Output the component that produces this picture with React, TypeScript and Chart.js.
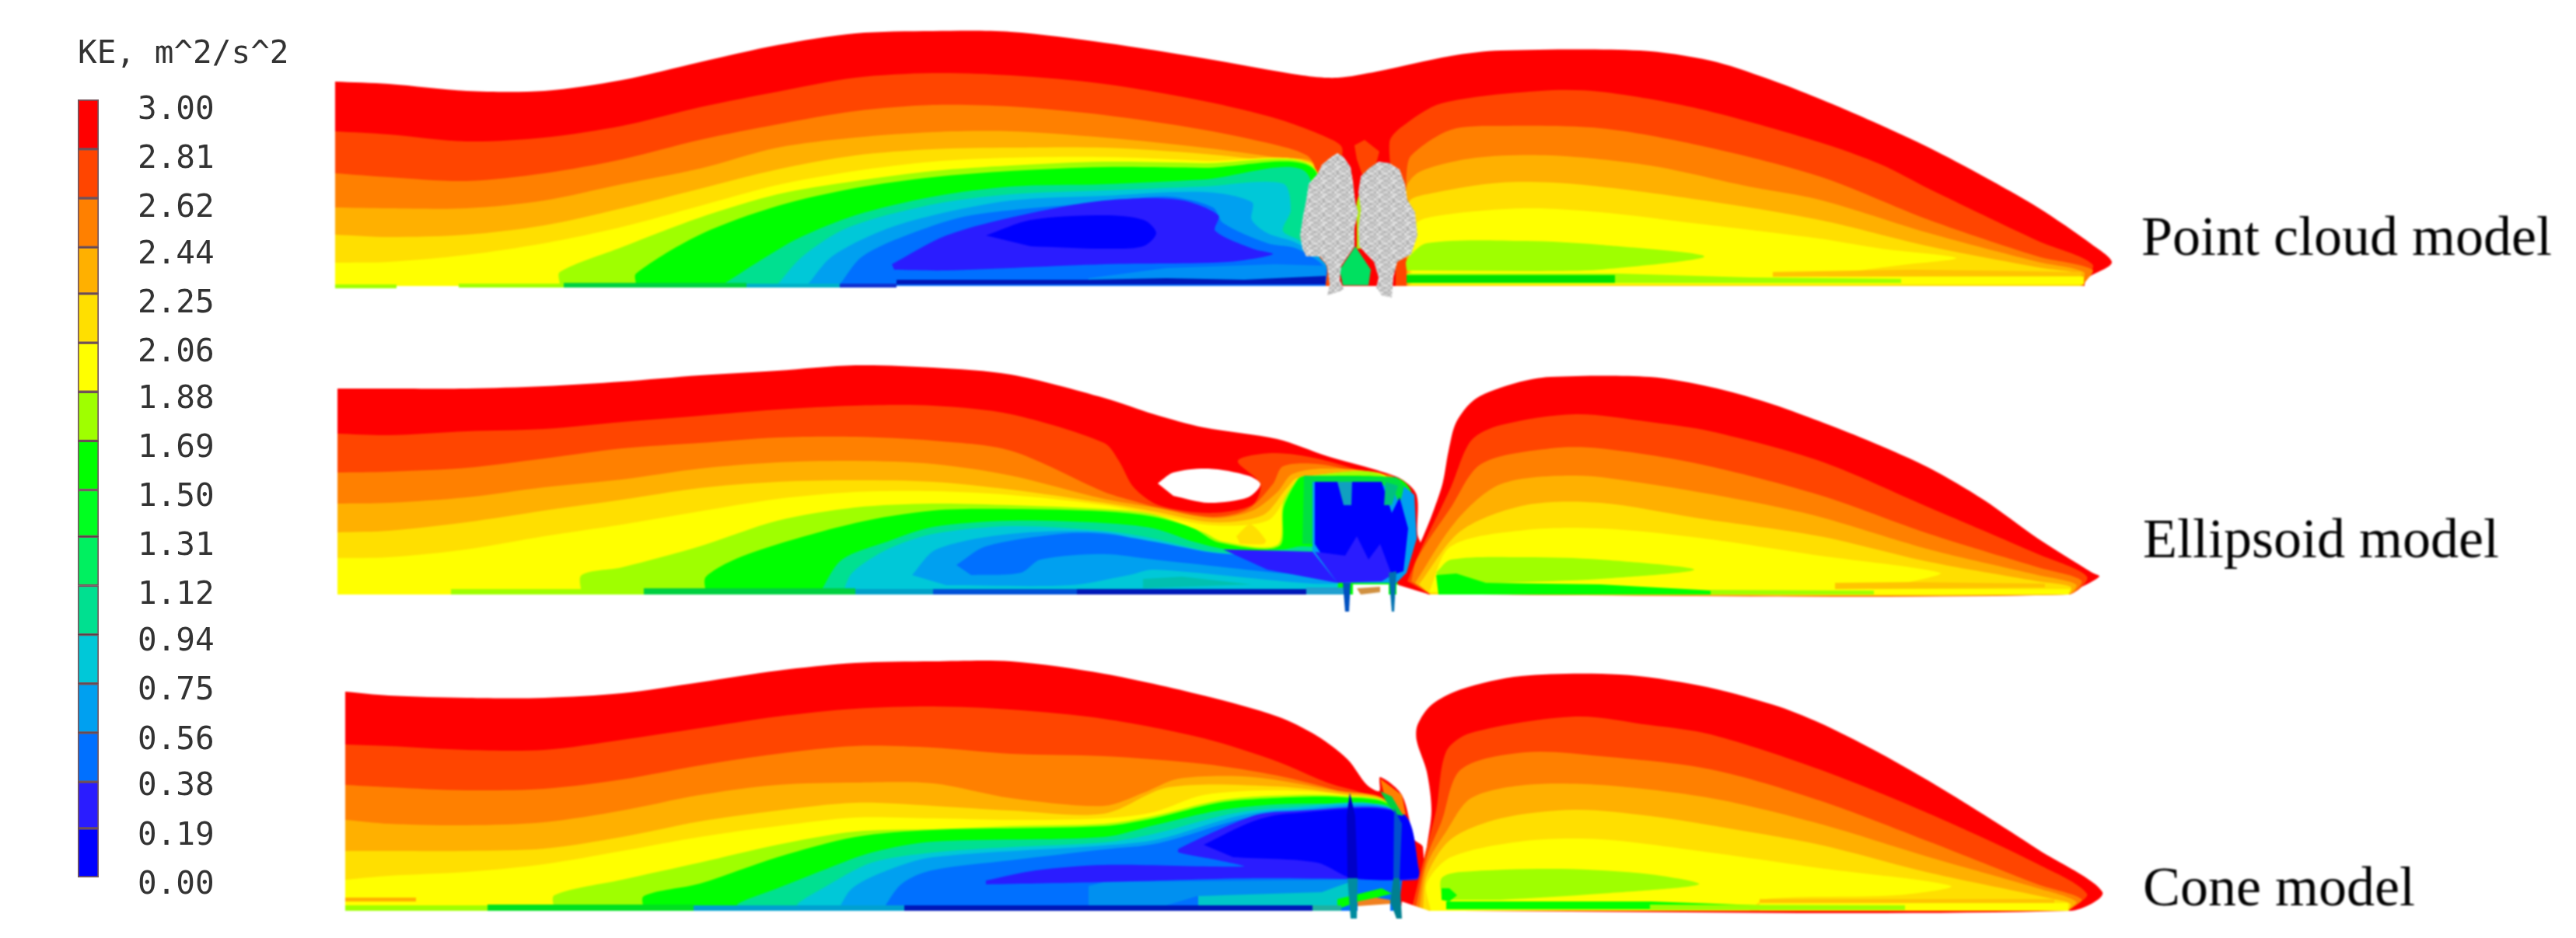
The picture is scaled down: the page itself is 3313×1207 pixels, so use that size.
import React, { useEffect, useRef } from "react";
import { Chart, registerables } from "chart.js";

Chart.register(...registerables);

// ---------- colour scale ----------
const keTickLabels = ["3.00","2.81","2.62","2.44","2.25","2.06","1.88","1.69","1.50","1.31","1.12","0.94","0.75","0.56","0.38","0.19","0.00"];
const keBandEdges = [3.042,2.85,2.66,2.47,2.29,2.10,1.91,1.72,1.53,1.35,1.16,0.97,0.78,0.59,0.40,0.22,0.03];
const keBandColors = ["#ff0000","#ff4500","#ff8000","#ffb000","#ffdf00","#ffff00","#9fff00","#00ff00","#00ff20","#00f060","#00e090","#00c8d8","#00a0f0","#0070ff","#2a1cff","#0000ff"];
const keTitle = "KE, m^2/s^2";

const RED="#ff0000",ORG="#ff4500",ORA="#ff8000",AMB="#ffb000",GOL="#ffdf00",YEL="#ffff00",LIM="#9fff00",GRN="#00ff00",TGR="#00e090",CYA="#00c8d8",SKY="#00a0f0",BLU="#0070ff",VIO="#2a1cff",DBL="#0000ff",NAV="#0018b8",STRIP="#ffc400";

// ---------- labels ----------
const modelNames = ["Point cloud model","Ellipsoid model","Cone model"];
const modelLabelX = [2754,2756,2756];
const modelLabelY = [328,717,1165];

// ---------- Point cloud model ----------
const pcBase = 368;
const pcOutline = [[431,105],[500,108],[600,117],[700,117],[800,103],[900,80],[1000,58],[1100,43],[1200,40],[1300,41],[1420,55],[1548,75],[1675,97],[1720,100],[1771,92],[1866,72],[1930,65],[2109,65],[2200,78],[2270,100],[2340,127],[2410,157],[2481,190],[2551,227],[2621,267],[2691,315],[2716,338],[2684,358],[2681,366]];
const pcL1 = [[431,169],[500,173],[600,182],[700,177],[800,162],[900,138],[1000,118],[1100,100],[1200,94],[1300,97],[1420,108],[1548,130],[1643,153],[1707,177],[1726,190],[1722,222]];
const pcL2 = [[431,223],[500,228],[600,233],[700,223],[800,205],[900,180],[1000,160],[1100,143],[1200,135],[1300,137],[1420,148],[1548,167],[1643,187],[1681,200],[1690,215]];
const pcL3 = [[431,267],[500,268],[600,268],[700,258],[800,237],[900,217],[1000,190],[1100,177],[1200,170],[1300,169],[1420,177],[1548,190],[1643,203],[1690,212]];
const pcL4 = [[431,302],[500,305],[600,302],[700,290],[800,268],[900,243],[1000,218],[1100,200],[1200,192],[1300,190],[1420,190],[1548,198],[1643,208],[1690,214]];
const pcL5 = [[431,338],[500,337],[600,328],[700,313],[800,292],[900,265],[1000,238],[1100,220],[1200,208],[1300,203],[1420,202],[1548,207],[1690,215]];
const pcL6 = [[720,366],[720,350],[800,318],[900,280],[1000,250],[1100,233],[1200,220],[1300,213],[1420,208],[1548,210],[1690,216]];
const pcL7 = [[818,366],[818,352],[900,302],[1000,265],[1100,242],[1200,228],[1300,220],[1420,215],[1548,216],[1690,218]];
const pcL8 = [[930,366],[975,337],[1026,307],[1100,277],[1200,253],[1300,240],[1420,237],[1548,231],[1680,222]];
const pcL9 = [[1000,366],[1032,330],[1090,293],[1200,263],[1300,250],[1420,245],[1548,240],[1650,236],[1660,270],[1650,297],[1672,310],[1700,335],[1705,366]];
const pcL10 = [[1039,366],[1070,330],[1134,297],[1200,277],[1300,258],[1420,252],[1548,247],[1610,260],[1610,283],[1630,300],[1668,313],[1705,340],[1705,366]];
const pcL11 = [[1080,366],[1109,330],[1173,300],[1249,277],[1420,260],[1503,253],[1560,267],[1573,287],[1630,313],[1668,320],[1705,345],[1705,366]];
const pcViolet = [[1147,340],[1217,303],[1313,277],[1420,258],[1516,257],[1567,277],[1563,297],[1611,320],[1637,327],[1579,337],[1420,340],[1217,348],[1150,347]];
const pcDark = [[1268,303],[1326,283],[1420,277],[1471,283],[1487,300],[1470,317],[1420,320],[1326,317]];
const pcLowSky = [[1400,358],[1500,345],[1640,340],[1705,342],[1705,362],[1400,362]];
const pcGroundNav = [[1153,360],[1400,360],[1500,358],[1600,360],[1705,355],[1705,366],[1153,366]];
const pcGroundLime = [[431,366],[510,366],[510,371],[431,371]];
const pcGroundLime2 = [[590,365],[725,365],[725,370],[590,370]];
const pcGroundGreen = [[725,364],[960,364],[960,370],[725,370]];
const pcGroundTeal = [[960,365],[1080,365],[1080,370],[960,370]];
const pcGroundBlue = [[1080,365],[1153,365],[1153,370],[1080,370]];
const pcR1 = [[1795,260],[1787,183],[1803,163],[1854,133],[1981,117],[2058,118],[2185,140],[2340,183],[2420,212],[2481,243],[2621,310],[2691,340],[2680,366]];
const pcR2 = [[1809,260],[1809,223],[1815,200],[1866,167],[1930,162],[2058,165],[2185,187],[2340,227],[2481,283],[2621,330],[2691,347],[2680,366]];
const pcR3 = [[1809,290],[1809,240],[1828,220],[1898,203],[1994,200],[2122,213],[2249,240],[2340,257],[2481,300],[2621,337],[2680,350],[2678,366]];
const pcR4 = [[1812,320],[1812,260],[1835,250],[1930,235],[2026,237],[2185,257],[2340,283],[2481,317],[2621,344],[2676,353],[2676,366]];
const pcR5 = [[1815,366],[1819,290],[1854,277],[1962,268],[2058,273],[2185,288],[2340,307],[2420,320],[2516,332],[2446,341],[2380,350],[2300,366]];
const pcRStrip = [[2280,350],[2460,347],[2677,350],[2677,355],[2280,356]];
const pcRPale = [[2280,356],[2680,356],[2680,366],[2280,366]];
const pcRLime = [[1809,348],[1809,335],[1835,313],[1962,310],[2058,315],[2192,330],[2058,347],[1981,349]];
const pcRGroundLime = [[1809,352],[2080,352],[2250,357],[2445,359],[2445,364],[1809,364]];
const pcRGroundGreen = [[1809,354],[2077,354],[2077,364],[1809,364]];
const pcGapOrange = [[1742,187],[1755,180],[1774,195],[1770,210],[1752,225],[1745,205]];
const pcGapLime = [[1745,260],[1752,235],[1758,270],[1752,320],[1745,320]];
const pcGapGreen = [[1743,317],[1763,347],[1760,367],[1727,367],[1723,347]];
const pcTreeLeft = [[1720,197],[1728,202],[1737,215],[1740,233],[1743,260],[1747,273],[1742,293],[1742,317],[1733,330],[1725,342],[1723,360],[1728,372],[1723,375],[1707,380],[1710,367],[1707,342],[1698,330],[1680,330],[1675,320],[1672,303],[1676,277],[1680,257],[1683,237],[1695,223],[1700,212],[1712,202]];
const pcTreeRight = [[1773,208],[1787,210],[1800,218],[1807,237],[1810,257],[1820,273],[1823,303],[1815,327],[1797,337],[1792,357],[1790,383],[1777,380],[1770,370],[1773,357],[1767,337],[1748,317],[1747,293],[1750,270],[1747,247],[1750,227],[1760,217]];

// ---------- Ellipsoid model ----------
const elBase = 765;
const elOutline = [[434,500],[500,500],[600,500],[700,497],[800,491],[900,483],[1000,477],[1100,470],[1200,473],[1300,482],[1420,512],[1484,533],[1548,550],[1643,565],[1707,587],[1771,605],[1803,617],[1822,637],[1823,687],[1828,703]];
const elL1 = [[434,558],[500,560],[600,555],[700,552],[800,543],[900,535],[1000,527],[1100,522],[1200,522],[1300,533],[1420,570],[1439,593],[1458,627],[1490,650],[1554,660],[1610,650],[1621,623],[1592,593],[1637,583],[1694,590],[1764,610],[1803,622],[1815,640],[1815,700]];
const elL2 = [[434,608],[500,607],[600,602],[700,590],[800,577],[900,570],[1000,563],[1100,562],[1200,567],[1300,580],[1420,633],[1452,643],[1490,653],[1560,665],[1605,655],[1637,623],[1650,600],[1694,597],[1751,608],[1796,617],[1800,700]];
const elL3 = [[434,648],[500,647],[600,640],[700,627],[800,617],[900,603],[1000,595],[1100,593],[1200,597],[1300,612],[1420,642],[1484,653],[1560,667],[1611,657],[1643,633],[1662,610],[1707,603],[1777,615],[1790,700]];
const elL4 = [[434,685],[500,683],[600,672],[700,657],[800,643],[900,628],[1000,620],[1100,618],[1200,620],[1300,630],[1420,647],[1484,658],[1560,672],[1624,663],[1656,627],[1669,615],[1777,613],[1790,700]];
const elL5 = [[434,718],[500,717],[600,707],[700,690],[800,675],[900,658],[1000,642],[1100,633],[1200,632],[1300,637],[1420,650],[1484,662],[1560,676],[1630,670],[1656,637],[1669,617],[1675,613],[1783,613],[1790,700]];
const elGoldBlob = [[1590,690],[1608,675],[1628,695],[1625,700],[1595,700]];
const elL6 = [[748,765],[748,740],[800,730],[900,703],[1000,670],[1100,653],[1200,648],[1300,650],[1420,655],[1484,662],[1548,685],[1573,697],[1643,701],[1650,647],[1666,620],[1675,613],[1780,613],[1790,700]];
const elL7 = [[908,765],[908,742],[962,713],[1100,673],[1200,657],[1300,655],[1420,658],[1484,665],[1535,680],[1567,698],[1645,703],[1651,653],[1669,617],[1677,613],[1796,615],[1815,633],[1815,720]];
const elL8 = [[1058,765],[1058,757],[1083,720],[1141,697],[1200,678],[1300,670],[1420,673],[1484,680],[1535,697],[1580,707],[1650,707],[1675,703],[1720,710],[1720,765]];
const elL9 = [[1083,765],[1096,737],[1141,707],[1200,687],[1300,677],[1420,683],[1484,693],[1560,710],[1675,713],[1720,713],[1720,765]];
const elTealPatch = [[1470,745],[1520,742],[1610,752],[1470,757]];
const elSky = [[1173,740],[1204,707],[1300,687],[1420,685],[1484,700],[1560,714],[1690,716],[1720,740],[1720,750],[1675,750],[1484,733],[1452,740],[1377,753],[1217,753]];
const elBlue = [[1230,727],[1268,703],[1364,687],[1420,687],[1484,697],[1567,712],[1688,718],[1726,740],[1675,740],[1484,720],[1420,713],[1338,720],[1313,737],[1249,740]];
const elViolet = [[1573,707],[1694,710],[1777,740],[1777,747],[1720,750],[1630,733]];
const elGroundLime = [[580,758],[828,758],[828,765],[580,765]];
const elGroundGreen = [[828,757],[1100,757],[1100,765],[828,765]];
const elGroundTeal = [[1100,758],[1200,758],[1200,765],[1100,765]];
const elGroundBlue = [[1200,758],[1385,758],[1385,765],[1200,765]];
const elGroundNav = [[1385,758],[1680,758],[1680,765],[1385,765]];
const elGroundEnd = [[1680,756],[1730,756],[1730,765],[1680,765]];
const elR0 = [[1838,765],[1797,750],[1826,700],[1854,627],[1863,580],[1873,543],[1898,513],[1949,493],[1994,485],[2122,485],[2200,498],[2270,517],[2340,542],[2410,570],[2481,602],[2551,643],[2621,693],[2691,737],[2700,742],[2663,763],[2663,765]];
const elR1 = [[1810,748],[1826,710],[1866,627],[1892,567],[1930,547],[2026,533],[2122,543],[2200,555],[2340,593],[2481,653],[2621,713],[2684,742],[2660,765],[1840,765]];
const elR2 = [[1815,748],[1822,720],[1866,653],[1905,597],[1994,577],[2058,577],[2185,597],[2340,637],[2481,687],[2621,730],[2677,747],[2660,765],[1840,765]];
const elR3 = [[1820,750],[1873,670],[1930,623],[2026,612],[2122,623],[2249,645],[2340,665],[2481,707],[2621,740],[2670,752],[2660,765],[1840,765]];
const elR4 = [[1825,752],[1879,683],[1962,650],[2058,647],[2185,667],[2340,690],[2481,723],[2621,748],[2663,755],[2660,765],[1840,765]];
const elR5 = [[1838,762],[1866,703],[1962,682],[2058,680],[2185,692],[2340,715],[2495,737],[2460,748],[2360,765]];
const elRStrip = [[2360,750],[2460,749],[2630,751],[2630,756],[2360,758]];
const elRPale = [[2360,758],[2663,758],[2660,765],[2360,765]];
const elRLime = [[1847,737],[1866,720],[1962,717],[2058,720],[2179,733],[2058,745],[1930,750],[1854,753]];
const elRGreen = [[1847,740],[1873,738],[1911,750],[2058,752],[2204,760],[2204,765],[1850,765]];
const elRGroundLime = [[2200,759],[2410,760],[2410,765],[2200,765]];
const elBoxSky = [[1688,617],[1796,617],[1819,637],[1822,693],[1809,737],[1796,750],[1720,750],[1688,710]];
const elBoxGreen = [[1677,612],[1796,614],[1806,625],[1800,650],[1790,625],[1688,620],[1688,700],[1675,700]];
const elBoxCore = [[1691,620],[1777,620],[1790,660],[1800,640],[1811,680],[1805,735],[1777,745],[1720,745],[1691,700]];
const elBoxViolet = [[1691,710],[1730,715],[1745,690],[1760,720],[1775,700],[1790,740],[1777,748],[1720,750]];
const elBoxTeal = [[1720,620],[1739,620],[1738,650],[1728,650]];
const elBoxGreenSpike = [[1782,620],[1798,625],[1790,650],[1780,650]];
const elGapWhiteA = [[1740,752],[1786,752],[1786,772],[1740,772]];
const elGapOrange = [[1745,757],[1775,755],[1775,762],[1750,765]];
const elGapWhiteB = [[1796,752],[1835,764],[1835,772],[1796,772]];
const elSpikeA = [[1727,750],[1737,750],[1735,787],[1730,787]];
const elSpikeB = [[1786,737],[1796,735],[1793,787],[1790,787]];
const elHole = [[1489,622],[1509,608],[1554,603],[1605,612],[1621,623],[1605,640],[1554,647],[1509,638]];

// ---------- Cone model ----------
const coBase = 1172;
const coOutlineL = [[444,890],[500,895],[600,898],[700,898],[800,892],[900,878],[1000,863],[1100,853],[1200,851],[1300,851],[1420,867],[1548,895],[1643,922],[1694,947],[1733,977],[1758,1010],[1774,1018],[1775,1000],[1803,1023],[1819,1080],[1830,1090]];
const coOutlineR = [[1835,1090],[1841,1043],[1835,993],[1822,953],[1823,933],[1841,907],[1879,887],[1956,870],[2083,868],[2185,882],[2281,907],[2340,930],[2410,965],[2481,1005],[2551,1048],[2621,1093],[2704,1148],[2663,1172],[1815,1172]];
const coL1 = [[444,958],[500,960],[600,965],[700,965],[800,952],[900,937],[1000,922],[1100,912],[1200,909],[1300,913],[1420,925],[1548,950],[1643,980],[1707,1007],[1758,1022],[1770,1030]];
const coL2 = [[444,1010],[500,1013],[600,1017],[700,1015],[800,1003],[900,985],[1000,970],[1100,960],[1200,962],[1300,970],[1420,973],[1548,983],[1643,998],[1720,1017],[1764,1030]];
const coL3 = [[444,1055],[500,1060],[600,1062],[700,1058],[800,1043],[900,1023],[1000,1010],[1100,1007],[1200,1008],[1300,1027],[1420,1037],[1471,1020],[1516,1002],[1611,1000],[1720,1018],[1784,1033]];
const coL4 = [[444,1095],[500,1095],[600,1095],[700,1092],[800,1077],[900,1057],[1000,1043],[1100,1033],[1200,1037],[1300,1043],[1420,1047],[1503,1013],[1643,1012],[1726,1022],[1784,1035]];
const coL5 = [[444,1132],[500,1127],[600,1122],[700,1112],[800,1095],[900,1077],[1000,1063],[1100,1052],[1200,1053],[1300,1055],[1420,1053],[1484,1045],[1548,1023],[1643,1017],[1733,1023],[1787,1037]];
const coL6 = [[713,1172],[713,1152],[800,1132],[900,1110],[1000,1087],[1100,1070],[1200,1067],[1300,1063],[1420,1060],[1484,1050],[1567,1030],[1637,1024],[1726,1024],[1790,1038]];
const coL7 = [[828,1172],[828,1153],[900,1137],[1000,1103],[1100,1077],[1200,1068],[1420,1063],[1484,1053],[1567,1033],[1637,1027],[1726,1026],[1790,1040]];
const coL8 = [[949,1172],[949,1163],[1000,1143],[1058,1120],[1121,1097],[1200,1083],[1420,1077],[1484,1062],[1567,1043],[1643,1035],[1733,1035],[1790,1042]];
const coL9 = [[1026,1172],[1026,1163],[1058,1143],[1121,1110],[1200,1097],[1300,1090],[1420,1084],[1484,1073],[1579,1048],[1643,1040],[1790,1043]];
const coL10 = [[1077,1172],[1096,1143],[1141,1120],[1200,1103],[1420,1088],[1490,1080],[1592,1050],[1656,1042],[1796,1045]];
const coL11 = [[1134,1172],[1160,1137],[1198,1120],[1300,1107],[1420,1093],[1490,1085],[1600,1053],[1660,1045],[1800,1047]];
const coViolet = [[1268,1133],[1332,1120],[1420,1113],[1599,1115],[1567,1107],[1516,1097],[1516,1092],[1611,1050],[1656,1044],[1803,1046],[1825,1120],[1822,1132],[1739,1131],[1611,1130],[1420,1135],[1268,1138]];
const coDark = [[1548,1087],[1611,1057],[1656,1047],[1803,1047],[1825,1120],[1822,1130],[1739,1130],[1694,1110],[1586,1103]];
const coLowSky = [[1400,1140],[1420,1135],[1739,1132],[1700,1150],[1540,1153],[1500,1165],[1400,1165]];
const coLowCyan = [[1541,1153],[1700,1148],[1735,1135],[1735,1165],[1541,1165]];
const coLowGreen = [[1720,1157],[1777,1143],[1790,1150],[1739,1163],[1720,1170]];
const coGoldStrip = [[444,1155],[535,1155],[535,1160],[444,1160]];
const coGroundLime = [[444,1165],[627,1165],[627,1172],[444,1172]];
const coGroundGreen = [[627,1164],[892,1164],[892,1172],[627,1172]];
const coGroundTeal = [[892,1165],[1163,1165],[1163,1172],[892,1172]];
const coGroundNav = [[1163,1165],[1688,1165],[1688,1172],[1163,1172]];
const coGroundEnd = [[1688,1165],[1725,1165],[1725,1172],[1688,1172]];
const coR1 = [[1815,1172],[1835,1090],[1847,1043],[1860,967],[1892,943],[2026,922],[2122,933],[2200,945],[2340,990],[2481,1047],[2621,1112],[2684,1150],[2660,1172]];
const coR2 = [[1820,1172],[1835,1103],[1854,1057],[1879,990],[1962,968],[2058,973],[2200,990],[2340,1030],[2481,1083],[2621,1138],[2677,1157],[2660,1172]];
const coR3 = [[1825,1172],[1835,1113],[1860,1070],[1892,1027],[1962,1010],[2058,1010],[2200,1027],[2340,1060],[2481,1103],[2621,1143],[2670,1160],[2660,1172]];
const coR4 = [[1830,1172],[1835,1127],[1866,1080],[1930,1053],[2026,1042],[2122,1050],[2200,1062],[2340,1087],[2481,1123],[2642,1157],[2663,1163],[2660,1172]];
const coR5 = [[1840,1172],[1835,1137],[1866,1103],[1962,1082],[2058,1080],[2185,1095],[2340,1117],[2509,1140],[2439,1152],[2270,1157],[2250,1172]];
const coRStrip = [[2263,1157],[2642,1157],[2642,1162],[2263,1162]];
const coRPale = [[2263,1162],[2660,1162],[2660,1172],[2263,1172]];
const coRLime = [[1854,1158],[1854,1130],[1879,1122],[2007,1118],[2122,1125],[2185,1138],[2058,1150],[1930,1158]];
const coRBlob = [[1854,1143],[1864,1143],[1874,1152],[1864,1160],[1854,1158]];
const coRGroundLime = [[2122,1164],[2450,1165],[2450,1171],[2122,1171]];
const coRGroundGreen = [[1860,1160],[2122,1160],[2262,1165],[2262,1170],[1860,1170]];
const coRimOrange = [[1775,1002],[1803,1023],[1808,1048],[1800,1048],[1782,1030]];
const coRimGreen = [[1775,1018],[1790,1025],[1805,1050],[1795,1048],[1785,1035]];
const coGapWhiteA = [[1746,1162],[1788,1162],[1788,1185],[1746,1185]];
const coGapOrange = [[1746,1160],[1770,1155],[1788,1158],[1788,1163],[1746,1166]];
const coGapWhiteB = [[1803,1160],[1838,1172],[1838,1182],[1800,1182]];
const coSpikeA = [[1736,1020],[1743,1050],[1746,1130],[1733,1130],[1732,1050]];
const coSpikeALow = [[1733,1130],[1746,1130],[1745,1182],[1737,1182]];
const coSpikeB = [[1793,1040],[1803,1060],[1800,1130],[1792,1130]];
const coSpikeBLow = [[1792,1130],[1800,1130],[1803,1182],[1796,1182],[1788,1160]];

const treeSpeckle = ["cdb8d6e4b4cc","bce2c6b2dcc4","dcb6d2aec8e0","c0d8b4e2cab0","d8b2e6c4b6d4","b8ccc0dce4ba"];

type Pt = number[];
type Layer = { color: any; pts: Pt[]; tension: number };
const smooth = (color: any, pts: Pt[]): Layer => ({ color, pts, tension: 0.3 });
const flat = (color: any, pts: Pt[]): Layer => ({ color, pts, tension: 0 });
const lobe = (color: any, pts: Pt[], base: number): Layer => {
  const a = pts[0][0], b = pts[pts.length - 1][0];
  return { color, pts: [...pts, [b, base], [b, base], [a, base], [a, base]], tension: 0.3 };
};

function buildLayers(tree: any): Layer[] {
  return [
    // point cloud
    lobe(RED, pcOutline, pcBase), lobe(ORG, pcL1, pcBase), lobe(ORA, pcL2, pcBase), lobe(AMB, pcL3, pcBase), lobe(GOL, pcL4, pcBase), lobe(YEL, pcL5, pcBase),
    lobe(LIM, pcL6, pcBase), lobe(GRN, pcL7, pcBase), lobe(TGR, pcL8, pcBase), lobe(CYA, pcL9, pcBase), lobe(SKY, pcL10, pcBase), lobe(BLU, pcL11, pcBase),
    smooth(VIO, pcViolet), smooth(DBL, pcDark), flat("#0090f5", pcLowSky), flat(NAV, pcGroundNav),
    flat(LIM, pcGroundLime), flat(LIM, pcGroundLime2), flat("#00d040", pcGroundGreen), flat("#00b0c8", pcGroundTeal), flat("#1030d0", pcGroundBlue),
    lobe(ORG, pcR1, pcBase), lobe(ORA, pcR2, pcBase), lobe(AMB, pcR3, pcBase), lobe(GOL, pcR4, pcBase), smooth(YEL, pcR5), flat(STRIP, pcRStrip), flat(YEL, pcRPale),
    smooth(LIM, pcRLime), flat(LIM, pcRGroundLime), flat("#00e000", pcRGroundGreen),
    flat(ORG, pcGapOrange), flat("#b0f000", pcGapLime), flat("#00e060", pcGapGreen), flat(tree, pcTreeLeft), flat(tree, pcTreeRight),
    // ellipsoid
    lobe(RED, elOutline, elBase), lobe(ORG, elL1, elBase), lobe(ORA, elL2, elBase), lobe(AMB, elL3, elBase), lobe(GOL, elL4, elBase), lobe(YEL, elL5, elBase),
    smooth(GOL, elGoldBlob), lobe(LIM, elL6, elBase), lobe(GRN, elL7, elBase), lobe(TGR, elL8, elBase), lobe(CYA, elL9, elBase), flat("#00c0b0", elTealPatch),
    smooth(SKY, elSky), smooth(BLU, elBlue), flat(VIO, elViolet),
    flat(LIM, elGroundLime), flat("#00d040", elGroundGreen), flat("#00a0c8", elGroundTeal), flat("#0050d8", elGroundBlue), flat(NAV, elGroundNav), flat("#20a0d0", elGroundEnd),
    { color: RED, pts: elR0, tension: 0.3 }, { color: ORG, pts: elR1, tension: 0.3 }, { color: ORA, pts: elR2, tension: 0.3 }, { color: AMB, pts: elR3, tension: 0.3 }, { color: GOL, pts: elR4, tension: 0.3 },
    smooth(YEL, elR5), flat(STRIP, elRStrip), flat(YEL, elRPale), smooth(LIM, elRLime), flat(GRN, elRGreen), flat(LIM, elRGroundLime),
    flat(SKY, elBoxSky), flat("#00e040", elBoxGreen), flat(DBL, elBoxCore), flat(VIO, elBoxViolet), flat("#10a0c0", elBoxTeal), flat("#00c080", elBoxGreenSpike),
    flat("#ffffff", elGapWhiteA), flat("#d09040", elGapOrange), flat("#ffffff", elGapWhiteB), flat("#0050c0", elSpikeA), flat("#0070b0", elSpikeB),
    smooth("#ffffff", elHole),
    // cone
    lobe(RED, coOutlineL, coBase), { color: RED, pts: coOutlineR, tension: 0.3 },
    lobe(ORG, coL1, coBase), lobe(ORA, coL2, coBase), lobe(AMB, coL3, coBase), lobe(GOL, coL4, coBase), lobe(YEL, coL5, coBase), lobe(LIM, coL6, coBase), lobe(GRN, coL7, coBase), lobe(TGR, coL8, coBase), lobe(CYA, coL9, coBase), lobe(SKY, coL10, coBase), lobe(BLU, coL11, coBase),
    { color: ORG, pts: coR1, tension: 0.3 }, { color: ORA, pts: coR2, tension: 0.3 }, { color: AMB, pts: coR3, tension: 0.3 }, { color: GOL, pts: coR4, tension: 0.3 }, smooth(YEL, coR5),
    flat(STRIP, coRStrip), flat(YEL, coRPale), smooth(LIM, coRLime), flat(GRN, coRBlob), flat(GRN, coRGroundGreen), flat(LIM, coRGroundLime),
    smooth(VIO, coViolet), smooth(DBL, coDark), flat("#0090f0", coLowSky), flat("#00c8c8", coLowCyan), flat(GRN, coLowGreen),
    flat(AMB, coGoldStrip), flat(LIM, coGroundLime), flat("#00e020", coGroundGreen), flat("#00a0d0", coGroundTeal), flat(NAV, coGroundNav), flat("#20b0a0", coGroundEnd),
    flat(ORA, coRimOrange), flat("#00d040", coRimGreen), flat("#ffffff", coGapWhiteA), flat("#f08020", coGapOrange), flat("#ffffff", coGapWhiteB),
    flat("#0000c8", coSpikeA), flat("#008ca0", coSpikeALow), flat("#0050d0", coSpikeB), flat("#008090", coSpikeBLow),
  ];
}

function makeSpeckle(): any {
  const cell = 3;
  const c = document.createElement("canvas");
  c.width = 6 * cell; c.height = 6 * cell;
  const g = c.getContext("2d")!;
  treeSpeckle.forEach((row, y) => {
    for (let x = 0; x < 6; x++) {
      const v = row.slice(x * 2, x * 2 + 2);
      g.fillStyle = `#${v}${v}${v}`;
      g.fillRect(x * cell, y * cell, cell, cell);
    }
  });
  return g.createPattern(c, "repeat");
}

const modelLabelPlugin = {
  id: "modelLabels",
  afterDatasetsDraw(chart: any) {
    const { ctx, scales } = chart;
    ctx.save();
    ctx.font = '72px "Liberation Serif"';
    ctx.fillStyle = "#000";
    ctx.textBaseline = "alphabetic";
    modelNames.forEach((name, i) => {
      ctx.fillText(name, scales.x.getPixelForValue(modelLabelX[i]), scales.y.getPixelForValue(modelLabelY[i]));
    });
    ctx.restore();
  },
};

const barTitlePlugin = {
  id: "barTitle",
  afterDraw(chart: any) {
    const { ctx, chartArea } = chart;
    ctx.save();
    ctx.font = '41px "DejaVu Sans Mono"';
    ctx.fillStyle = "#333";
    ctx.textAlign = "left";
    ctx.textBaseline = "middle";
    ctx.fillText(keTitle, chartArea.left, chartArea.top - 58);
    ctx.restore();
  },
};

export default function App() {
  const fieldRef = useRef<HTMLCanvasElement>(null);
  const barRef = useRef<HTMLCanvasElement>(null);

  useEffect(() => {
    const layers = buildLayers(makeSpeckle());
    const field = new Chart(fieldRef.current!, {
      type: "scatter",
      data: {
        datasets: layers
          .map((l) => ({
            data: l.pts,
            showLine: true,
            fill: "shape",
            backgroundColor: l.color,
            borderWidth: 0,
            pointRadius: 0,
            tension: l.tension,
          }))
          .reverse(),
      },
      options: {
        animation: false,
        responsive: false,
        events: [],
        layout: { padding: 0 },
        plugins: { legend: { display: false }, tooltip: { enabled: false }, title: { display: false } },
        scales: {
          x: { type: "linear", min: 0, max: 3313, display: false },
          y: { type: "linear", min: 0, max: 1207, reverse: true, display: false },
        },
      },
      plugins: [modelLabelPlugin],
    } as any);

    const barDatasets = keBandColors.map((color, i) => ({
      data: [[keBandEdges[i + 1], keBandEdges[i]]],
      backgroundColor: color,
      borderColor: "rgba(70,30,40,0.75)",
      borderWidth: 2,
      borderSkipped: false,
      barPercentage: 1,
      categoryPercentage: 1,
      grouped: false,
    }));
    const bar = new Chart(barRef.current!, {
      type: "bar",
      data: { labels: ["KE"], datasets: barDatasets },
      options: {
        animation: false,
        responsive: false,
        events: [],
        layout: { padding: { left: 100, right: 103, top: 128, bottom: 68 } },
        plugins: { legend: { display: false }, tooltip: { enabled: false }, title: { display: false } },
        scales: {
          x: { display: false, grid: { display: false } },
          y: {
            position: "right",
            min: 0,
            max: 3.042,
            grid: { display: false, drawTicks: false },
            border: { display: false },
            afterBuildTicks: (s: any) => {
              s.ticks = keTickLabels.map((t) => ({ value: parseFloat(t) }));
            },
            afterFit: (s: any) => {
              s.width = 190;
              s.paddingTop = 0;
              s.paddingBottom = 0;
            },
            ticks: {
              autoSkip: false,
              padding: 50,
              color: "#333",
              font: { family: '"DejaVu Sans Mono"', size: 41 },
              callback: (_v: any, i: number) => keTickLabels[i],
            },
          },
        },
      },
      plugins: [barTitlePlugin],
    } as any);

    return () => {
      field.destroy();
      bar.destroy();
    };
  }, []);

  return (
    <div style={{ position: "absolute", left: 0, top: 0, width: 3313, height: 1207, background: "#fff", overflow: "hidden" }}>
      <canvas ref={fieldRef} width={3313} height={1207} style={{ position: "absolute", left: 0, top: 0, filter: "blur(0.8px)" }} />
      <canvas ref={barRef} width={420} height={1207} style={{ position: "absolute", left: 0, top: 0 }} />
    </div>
  );
}
